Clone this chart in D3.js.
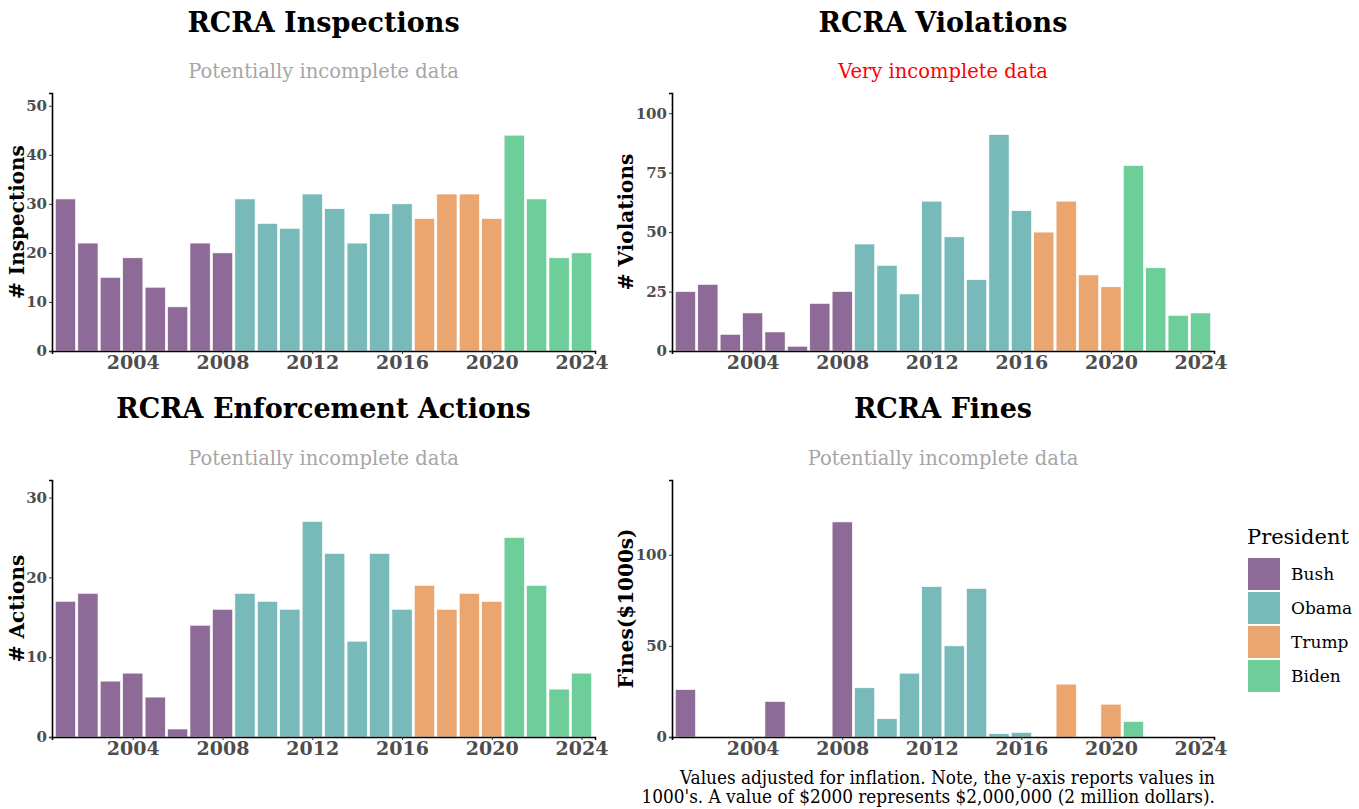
<!DOCTYPE html>
<html>
<head>
<meta charset="utf-8">
<title>RCRA</title>
<script src="https://d3js.org/d3.v7.min.js"></script>
<style>
  body { margin: 0; background: #fff; }
  svg { font-family: "DejaVu Serif", serif; }
  .tick text { font-weight: bold; fill: #4d4d4d; }
</style>
</head>
<body>
<svg id="chart" width="1359" height="809"></svg>
<script>
const years = [2001, 2002, 2003, 2004, 2005, 2006, 2007, 2008, 2009, 2010, 2011, 2012,
               2013, 2014, 2015, 2016, 2017, 2018, 2019, 2020, 2021, 2022, 2023, 2024];
const president = ["Bush", "Bush", "Bush", "Bush", "Bush", "Bush", "Bush", "Bush",
                   "Obama", "Obama", "Obama", "Obama", "Obama", "Obama", "Obama", "Obama",
                   "Trump", "Trump", "Trump", "Trump", "Biden", "Biden", "Biden", "Biden"];
const inspections = [31, 22, 15, 19, 13, 9, 22, 20, 31, 26, 25, 32, 29, 22, 28, 30, 27, 32, 32, 27, 44, 31, 19, 20];
const violations  = [25, 28, 7, 16, 8, 2, 20, 25, 45, 36, 24, 63, 48, 30, 91, 59, 50, 63, 32, 27, 78, 35, 15, 16];
const actions     = [17, 18, 7, 8, 5, 1, 14, 16, 18, 17, 16, 27, 23, 12, 23, 16, 19, 16, 18, 17, 25, 19, 6, 8];
const fines       = [26, 0, 0, 0, 19.5, 0, 0, 118, 27, 10, 35, 82.5, 50, 81.5, 1.8, 2.5, 0, 29, 0, 18, 8.5, 0, 0, 0];

const presidents = ["Bush", "Obama", "Trump", "Biden"];
const presColors = ["#8d6a97", "#78b9b9", "#eba670", "#6dce9a"];
const xTicks = [2004, 2008, 2012, 2016, 2020, 2024];

const color = d3.scaleOrdinal().domain(presidents).range(presColors);

const svg = d3.select("#chart");

const panels = [
  { title: "RCRA Inspections", sub: "Potentially incomplete data", subColor: "#a6a6a6",
    ylab: "# Inspections", values: inspections, yMax: 52.6, yTicks: [0, 10, 20, 30, 40, 50],
    x0: 52, x1: 595, y0: 93, y1: 351, titleY: 32, subY: 78, labX: 24 },
  { title: "RCRA Violations", sub: "Very incomplete data", subColor: "#ff0000",
    ylab: "# Violations", values: violations, yMax: 108.5, yTicks: [0, 25, 50, 75, 100],
    x0: 672, x1: 1214, y0: 93, y1: 351, titleY: 32, subY: 78, labX: 633 },
  { title: "RCRA Enforcement Actions", sub: "Potentially incomplete data", subColor: "#a6a6a6",
    ylab: "# Actions", values: actions, yMax: 32.2, yTicks: [0, 10, 20, 30],
    x0: 52, x1: 595, y0: 480, y1: 737, titleY: 418, subY: 465, labX: 24 },
  { title: "RCRA Fines", sub: "Potentially incomplete data", subColor: "#a6a6a6",
    ylab: "Fines($1000s)", values: fines, yMax: 141, yTicks: [0, 50, 100],
    x0: 672, x1: 1214, y0: 480, y1: 737, titleY: 418, subY: 465, labX: 633 }
];

panels.forEach(p => {
  const x = d3.scaleLinear().domain([2000.4, 2024.6]).range([p.x0, p.x1]);
  const y = d3.scaleLinear().domain([0, p.yMax]).range([p.y1, p.y0]);
  const bw = 0.9 * (x(2001) - x(2000));
  const g = svg.append("g");

  g.selectAll("rect.bar")
    .data(years.map((yr, i) => ({ year: yr, value: p.values[i], pres: president[i] })).filter(d => d.value > 0))
    .enter().append("rect")
    .attr("class", "bar")
    .attr("x", d => x(d.year) - bw / 2)
    .attr("width", bw)
    .attr("y", d => y(d.value))
    .attr("height", d => y(0) - y(d.value))
    .attr("fill", d => color(d.pres))
    .attr("stroke", "#fff")
    .attr("stroke-width", 0.6);

  const xAxis = g.append("g")
    .attr("transform", `translate(0,${p.y1})`)
    .call(d3.axisBottom(x).tickValues(xTicks).tickFormat(d3.format("d")).tickSize(3).tickPadding(2))
    .attr("font-family", "DejaVu Serif");
  xAxis.select(".domain").attr("stroke", "#000").attr("stroke-width", 1.6);
  xAxis.selectAll(".tick line").attr("stroke", "#333");
  xAxis.selectAll(".tick text").style("font-size", "19px");

  const yAxis = g.append("g")
    .attr("transform", `translate(${p.x0},0)`)
    .call(d3.axisLeft(y).tickValues(p.yTicks).tickSize(3).tickPadding(2))
    .attr("font-family", "DejaVu Serif");
  yAxis.select(".domain").attr("stroke", "#000").attr("stroke-width", 1.6);
  yAxis.selectAll(".tick line").attr("stroke", "#333");
  yAxis.selectAll(".tick text").style("font-size", "15px");

  const cx = (p.x0 + p.x1) / 2;
  g.append("text").attr("x", cx).attr("y", p.titleY)
    .attr("text-anchor", "middle").style("font-size", "27px").style("font-weight", "bold")
    .text(p.title);
  g.append("text").attr("x", cx).attr("y", p.subY)
    .attr("text-anchor", "middle").style("font-size", "19.5px").attr("fill", p.subColor)
    .text(p.sub);
  g.append("text")
    .attr("transform", `translate(${p.labX},${(p.y0 + p.y1) / 2}) rotate(-90)`)
    .attr("text-anchor", "middle").style("font-size", "20px").style("font-weight", "bold")
    .text(p.ylab);
});

// legend
const leg = svg.append("g").attr("transform", "translate(1247,0)");
leg.append("text").attr("x", 0).attr("y", 544).style("font-size", "21px").text("President");
presidents.forEach((name, i) => {
  leg.append("rect").attr("x", 1).attr("y", 558 + i * 34).attr("width", 32).attr("height", 32)
    .attr("fill", color(name));
  leg.append("text").attr("x", 44).attr("y", 580 + i * 34).style("font-size", "17px").text(name);
});

// footnote
const note = ["Values adjusted for inflation. Note, the y-axis reports values in",
              "1000's. A value of $2000 represents $2,000,000 (2 million dollars)."];
svg.append("g").selectAll("text").data(note).enter().append("text")
  .attr("x", 1215).attr("y", (d, i) => 784 + i * 19)
  .attr("text-anchor", "end")
  .style("font-family", "'DejaVu Serif Condensed', 'DejaVu Serif', serif")
  .style("font-stretch", "condensed")
  .style("font-size", "18.8px")
  .text(d => d);
</script>
</body>
</html>
